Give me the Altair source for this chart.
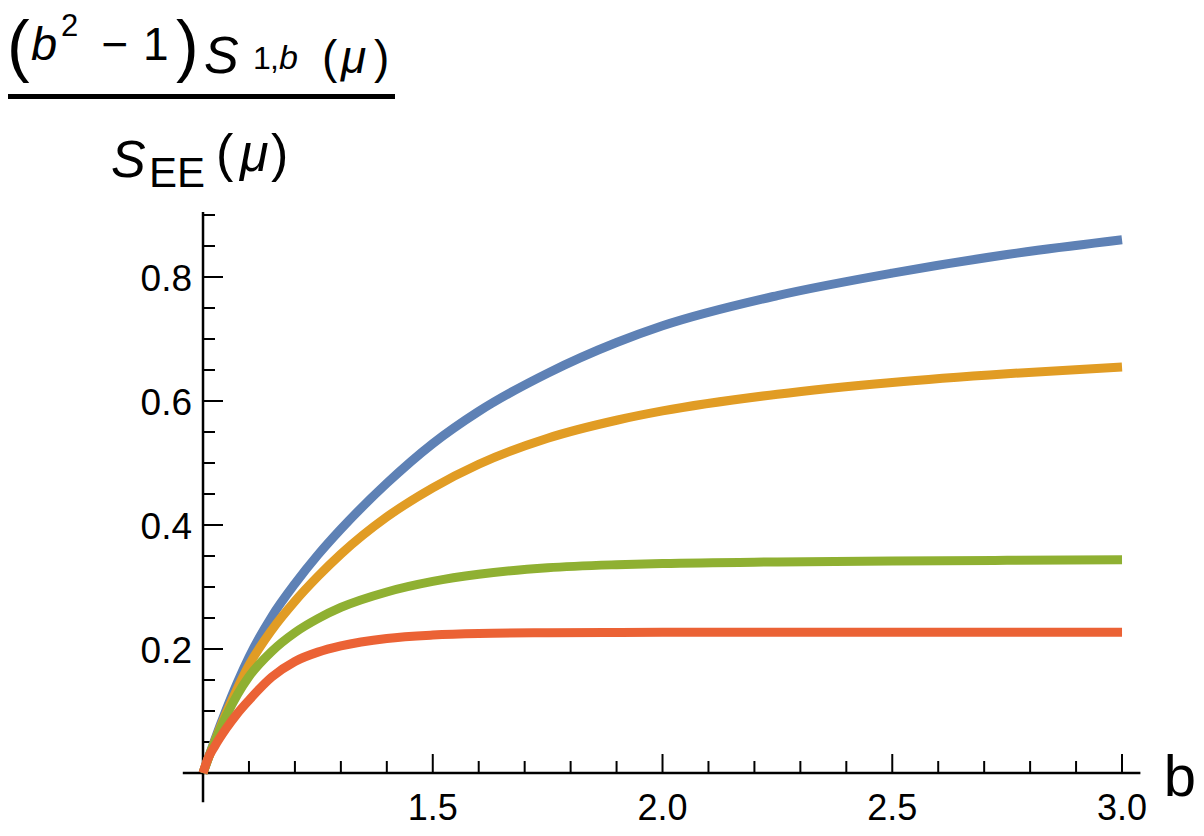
import altair as alt
import pandas as pd

# ---- data ----
b_vals = [1.0, 1.01, 1.025, 1.05, 1.075, 1.1, 1.15, 1.2, 1.25, 1.3, 1.4, 1.5, 1.6, 1.75, 1.9, 2.0, 2.25, 2.5, 2.75, 3.0]
blue = [0.0, 0.021, 0.0525, 0.1013, 0.1463, 0.1868, 0.2528, 0.3053, 0.3518, 0.3933, 0.4673, 0.5313, 0.5833, 0.6448, 0.6943, 0.7213, 0.7701, 0.8063, 0.8363, 0.8601]
orange = [0.0, 0.0205, 0.050, 0.096, 0.137, 0.174, 0.231, 0.277, 0.317, 0.353, 0.413, 0.460, 0.498, 0.540, 0.569, 0.584, 0.611, 0.630, 0.644, 0.655]
green = [0.0, 0.021, 0.0488, 0.0913, 0.1268, 0.1555, 0.1965, 0.2265, 0.249, 0.267, 0.292, 0.309, 0.3205, 0.331, 0.336, 0.338, 0.3405, 0.342, 0.343, 0.3438]
red = [0.0, 0.022, 0.0425, 0.0713, 0.0963, 0.1175, 0.155, 0.180, 0.195, 0.205, 0.217, 0.2225, 0.225, 0.2262, 0.2267, 0.2269, 0.227, 0.227, 0.227, 0.227]

series_names = ["s1", "s2", "s3", "s4"]
series_vals = [blue, orange, green, red]
series_colors = ["#5E81B5", "#E19C24", "#8FB032", "#EB6235"]

x_major = [1.5, 2.0, 2.5, 3.0]
x_major_labels = ["1.5", "2.0", "2.5", "3.0"]
x_minor = [1.1, 1.2, 1.3, 1.4, 1.6, 1.7, 1.8, 1.9, 2.1, 2.2, 2.3, 2.4, 2.6, 2.7, 2.8, 2.9]
y_major = [0.2, 0.4, 0.6, 0.8]
y_major_labels = ["0.2", "0.4", "0.6", "0.8"]
y_minor = [0.05, 0.1, 0.15, 0.25, 0.3, 0.35, 0.45, 0.5, 0.55, 0.65, 0.7, 0.75, 0.85, 0.9]

x_axis_range = [0.956, 3.04]
y_axis_range = [-0.047, 0.905]

# ---- chart ----
W, H = 1188, 828
xs = alt.Scale(domain=[0.5756, 3.161], zero=False, nice=False)
ys = alt.Scale(domain=[1.2339 - H / 620.0, 1.2339], zero=False, nice=False)
FONT = "Liberation Sans"

rows = []
for name, vals in zip(series_names, series_vals):
    for b, v in zip(b_vals, vals):
        rows.append({"b": b, "v": v, "s": name})
df = pd.DataFrame(rows)

layers = []

# axis lines
layers.append(
    alt.Chart(pd.DataFrame({"x1": [x_axis_range[0]], "x2": [x_axis_range[1]], "y": [0.0]}))
    .mark_rule(color="black", strokeWidth=2.5)
    .encode(x=alt.X("x1:Q", scale=xs, axis=None), x2="x2:Q", y=alt.Y("y:Q", scale=ys, axis=None))
)
layers.append(
    alt.Chart(pd.DataFrame({"x": [1.0], "y1": [y_axis_range[0]], "y2": [y_axis_range[1]]}))
    .mark_rule(color="black", strokeWidth=2.5)
    .encode(x=alt.X("x:Q", scale=xs, axis=None), y=alt.Y("y1:Q", scale=ys, axis=None), y2="y2:Q")
)

# x ticks
for vals, length in [(x_major, 19), (x_minor, 12)]:
    layers.append(
        alt.Chart(pd.DataFrame({"x": vals}))
        .mark_rule(color="black", strokeWidth=2, y2Offset=-length)
        .encode(x=alt.X("x:Q", scale=xs, axis=None),
                y=alt.YDatum(0, scale=ys, axis=None), y2=alt.datum(0))
    )
# y ticks
for vals, length in [(y_major, 20), (y_minor, 12)]:
    layers.append(
        alt.Chart(pd.DataFrame({"y": vals}))
        .mark_rule(color="black", strokeWidth=2, x2Offset=length)
        .encode(y=alt.Y("y:Q", scale=ys, axis=None),
                x=alt.XDatum(1, scale=xs, axis=None), x2=alt.datum(1))
    )

# tick labels
layers.append(
    alt.Chart(pd.DataFrame({"x": x_major, "t": x_major_labels}))
    .mark_text(font=FONT, fontSize=36, align="center", baseline="alphabetic", dy=47, color="black")
    .encode(x=alt.X("x:Q", scale=xs, axis=None), y=alt.YDatum(0, scale=ys, axis=None), text="t:N")
)
layers.append(
    alt.Chart(pd.DataFrame({"y": y_major, "t": y_major_labels}))
    .mark_text(font=FONT, fontSize=37, align="right", baseline="alphabetic", dx=-11, dy=14, color="black")
    .encode(y=alt.Y("y:Q", scale=ys, axis=None), x=alt.XDatum(1, scale=xs, axis=None), text="t:N")
)

# curves (drawn blue, orange, green, red - red on top)
for name, col in zip(series_names, series_colors):
    layers.append(
        alt.Chart(df)
        .transform_filter(alt.datum.s == name)
        .mark_line(color=col, strokeWidth=9, interpolate="monotone", strokeCap="butt")
        .encode(x=alt.X("b:Q", scale=xs, axis=None), y=alt.Y("v:Q", scale=ys, axis=None))
    )

# annotation text: axis label and fraction title (page coords minus 8px margin)
one = alt.Data(values=[{}])
def txt(t, x, y, size, italic=False, align="left"):
    kw = dict(text=t, font=FONT, fontSize=size, align=align, baseline="alphabetic", color="black")
    if italic:
        kw["fontStyle"] = "italic"
    return alt.Chart(one).mark_text(**kw).encode(x=alt.value(x - 8), y=alt.value(y - 8))

title_parts = [
    ("(", 7, 69, 68, False, "left"),
    ("b", 31, 60, 47, True, "left"),
    ("2", 61, 36, 31, False, "left"),
    ("\u2212", 115, 60, 46, False, "center"),
    ("1", 143, 60, 46, False, "left"),
    (")", 176, 69, 68, False, "left"),
    ("S", 204, 73, 52, True, "left"),
    ("1", 253, 69, 32, False, "left"),
    (",", 270, 69, 32, False, "left"),
    ("b", 279, 69, 34, True, "left"),
    ("(", 322, 73, 46, False, "left"),
    ("\u03bc", 341, 73, 46, True, "left"),
    (")", 374, 73, 46, False, "left"),
    ("S", 111, 177, 52, True, "left"),
    ("EE", 149, 187, 42, False, "left"),
    ("(", 216, 171, 52, False, "left"),
    ("\u03bc", 240, 171, 52, True, "left"),
    (")", 271, 171, 52, False, "left"),
    ("b", 1196, 796, 58, False, "right"),
]
for p in title_parts:
    layers.append(txt(*p))

layers.append(
    alt.Chart(one).mark_rule(color="black", strokeWidth=5)
    .encode(x=alt.value(-1), x2=alt.value(387), y=alt.value(88.5))
)

chart = (
    alt.layer(*layers)
    .properties(width=W, height=H, padding=0, autosize=alt.AutoSizeParams(type="none"))
    .configure_view(stroke=None)
)
chart.save("out.html", embed_options={"renderer": "svg", "actions": False})
